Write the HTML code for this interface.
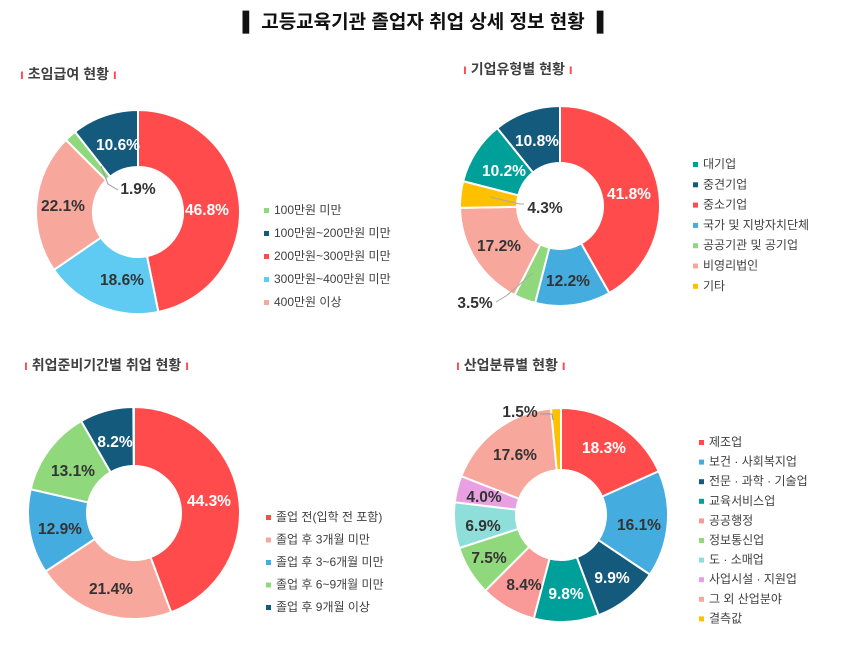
<!DOCTYPE html>
<html><head><meta charset="utf-8"><style>
body{margin:0;background:#fff;width:847px;height:645px;overflow:hidden;font-family:"Liberation Sans","Noto Sans CJK KR",sans-serif;}
svg{position:absolute;left:0;top:0}
</style></head><body>
<svg id="s" width="847" height="645" xmlns="http://www.w3.org/2000/svg" font-family="Liberation Sans, Noto Sans CJK KR, sans-serif">
<text x="423" y="28" text-anchor="middle" font-size="19" font-weight="bold" fill="#111">▌ 고등교육기관 졸업자 취업 상세 정보 현황 ▐</text>
<g font-size="14" font-weight="bold" fill="#404040">
<text x="20" y="79"><tspan fill="#FF4B4B">ı</tspan> 초임급여 현황 <tspan fill="#FF4B4B">ı</tspan></text>
<text x="463" y="74"><tspan fill="#FF4B4B">ı</tspan> 기업유형별 현황 <tspan fill="#FF4B4B">ı</tspan></text>
<text x="24" y="370"><tspan fill="#FF4B4B">ı</tspan> 취업준비기간별 취업 현황 <tspan fill="#FF4B4B">ı</tspan></text>
<text x="456" y="370"><tspan fill="#FF4B4B">ı</tspan> 산업분류별 현황 <tspan fill="#FF4B4B">ı</tspan></text>
</g>
<g id="charts"></g>
</svg>
<script>
const g=document.getElementById('charts');
function donut(cx,cy,R,r,data){
 let a=0;let h='';
 data.forEach(d=>{
  const a0=a/100*2*Math.PI, a1=(a+d[0])/100*2*Math.PI; a+=d[0];
  const p=(ang,rad)=>[cx+rad*Math.sin(ang),cy-rad*Math.cos(ang)];
  const L=(a1-a0)>Math.PI?1:0;
  const [x0,y0]=p(a0,R),[x1,y1]=p(a1,R),[x2,y2]=p(a1,r),[x3,y3]=p(a0,r);
  h+=`<path d="M${x0},${y0}A${R},${R} 0 ${L} 1 ${x1},${y1}L${x2},${y2}A${r},${r} 0 ${L} 0 ${x3},${y3}Z" fill="${d[1]}" stroke="#fff" stroke-width="2"/>`;
 });
 g.insertAdjacentHTML('beforeend',h);
}
const RED='#FF4B4B',DB='#135A7C',LB='#5FCBF3',SAL='#F8A79D',GR='#8FD87C',BL='#44ACDF',TE='#00A09A',YE='#FFC000',LT='#8EDFDA',PK='#E8A0E3';
donut(138,212,102,45,[[46.8,RED],[18.6,LB],[22.1,SAL],[1.9,GR],[10.6,DB]]);
donut(560,206,100,43,[[41.8,RED],[12.2,BL],[3.5,GR],[17.2,SAL],[4.3,YE],[10.2,TE],[10.8,DB]]);
donut(134,513,106,47,[[44.3,RED],[21.4,SAL],[12.9,BL],[13.1,GR],[8.2,DB]]);
donut(561,515,107,45,[[18.3,RED],[16.1,BL],[9.9,DB],[9.8,TE],[8.4,'#FA9A98'],[7.5,GR],[6.9,LT],[4.0,PK],[17.6,SAL],[1.5,YE]]);
g.insertAdjacentHTML('beforeend','<polyline points="118,190 108,184 101,166" fill="none" stroke="#999"/><polyline points="490,197 520,204 524,204" fill="none" stroke="#aaa"/><polyline points="496,302 506,296 533,273" fill="none" stroke="#aaa"/><polyline points="540,414 552,414 553,420" fill="none" stroke="#999"/>');
function t(x,y,s,c,fs){g.insertAdjacentHTML('beforeend',`<text x="${x}" y="${y}" text-anchor="middle" font-size="${fs||15.5}" font-weight="bold" fill="${c}">${s}</text>`);}
const W='#fff',K='#333';
t(118,150,'10.6%',W);t(138,194,'1.9%',K);t(207,215,'46.8%',W);t(63,211,'22.1%',K);t(122,285,'18.6%',K);
t(537,146,'10.8%',W);t(504,176,'10.2%',W);t(545,213,'4.3%',K);t(629,199,'41.8%',W);t(499,251,'17.2%',K);t(568,286,'12.2%',K);t(475,308,'3.5%',K);
t(115,447,'8.2%',W);t(73,476,'13.1%',K);t(60,534,'12.9%',K);t(111,594,'21.4%',K);t(209,506,'44.3%',W);
t(520,417,'1.5%',K);t(515,460,'17.6%',K);t(604,453,'18.3%',W);t(639,530,'16.1%',K);t(484,502,'4.0%',K);t(483,531,'6.9%',K);t(489,563,'7.5%',K);t(524,590,'8.4%',K);t(566,599,'9.8%',W);t(612,583,'9.9%',W);
function leg(x,y,dy,items){let h='';items.forEach((it,i)=>{h+=`<rect x="${x}" y="${y+i*dy-6}" width="5" height="5" fill="${it[1]}"/><text x="${x+10}" y="${y+i*dy}" font-size="12" fill="#404040">${it[0]}</text>`});g.insertAdjacentHTML('beforeend',h);}
leg(264,214,23,[['100만원 미만',GR],['100만원~200만원 미만',DB],['200만원~300만원 미만',RED],['300만원~400만원 미만',LB],['400만원 이상',SAL]]);
leg(693,168,20.3,[['대기업',TE],['중견기업',DB],['중소기업',RED],['국가 및 지방자치단체',BL],['공공기관 및 공기업',GR],['비영리법인',SAL],['기타',YE]]);
leg(266,521,22.5,[['졸업 전(입학 전 포함)',RED],['졸업 후 3개월 미만',SAL],['졸업 후 3~6개월 미만',BL],['졸업 후 6~9개월 미만',GR],['졸업 후 9개월 이상',DB]]);
leg(699,446,19.6,[['제조업',RED],['보건 · 사회복지업',BL],['전문 · 과학 · 기술업',DB],['교육서비스업',TE],['공공행정','#FA9A98'],['정보통신업',GR],['도 · 소매업',LT],['사업시설 · 지원업',PK],['그 외 산업분야',SAL],['결측값',YE]]);
</script>
</body></html>
